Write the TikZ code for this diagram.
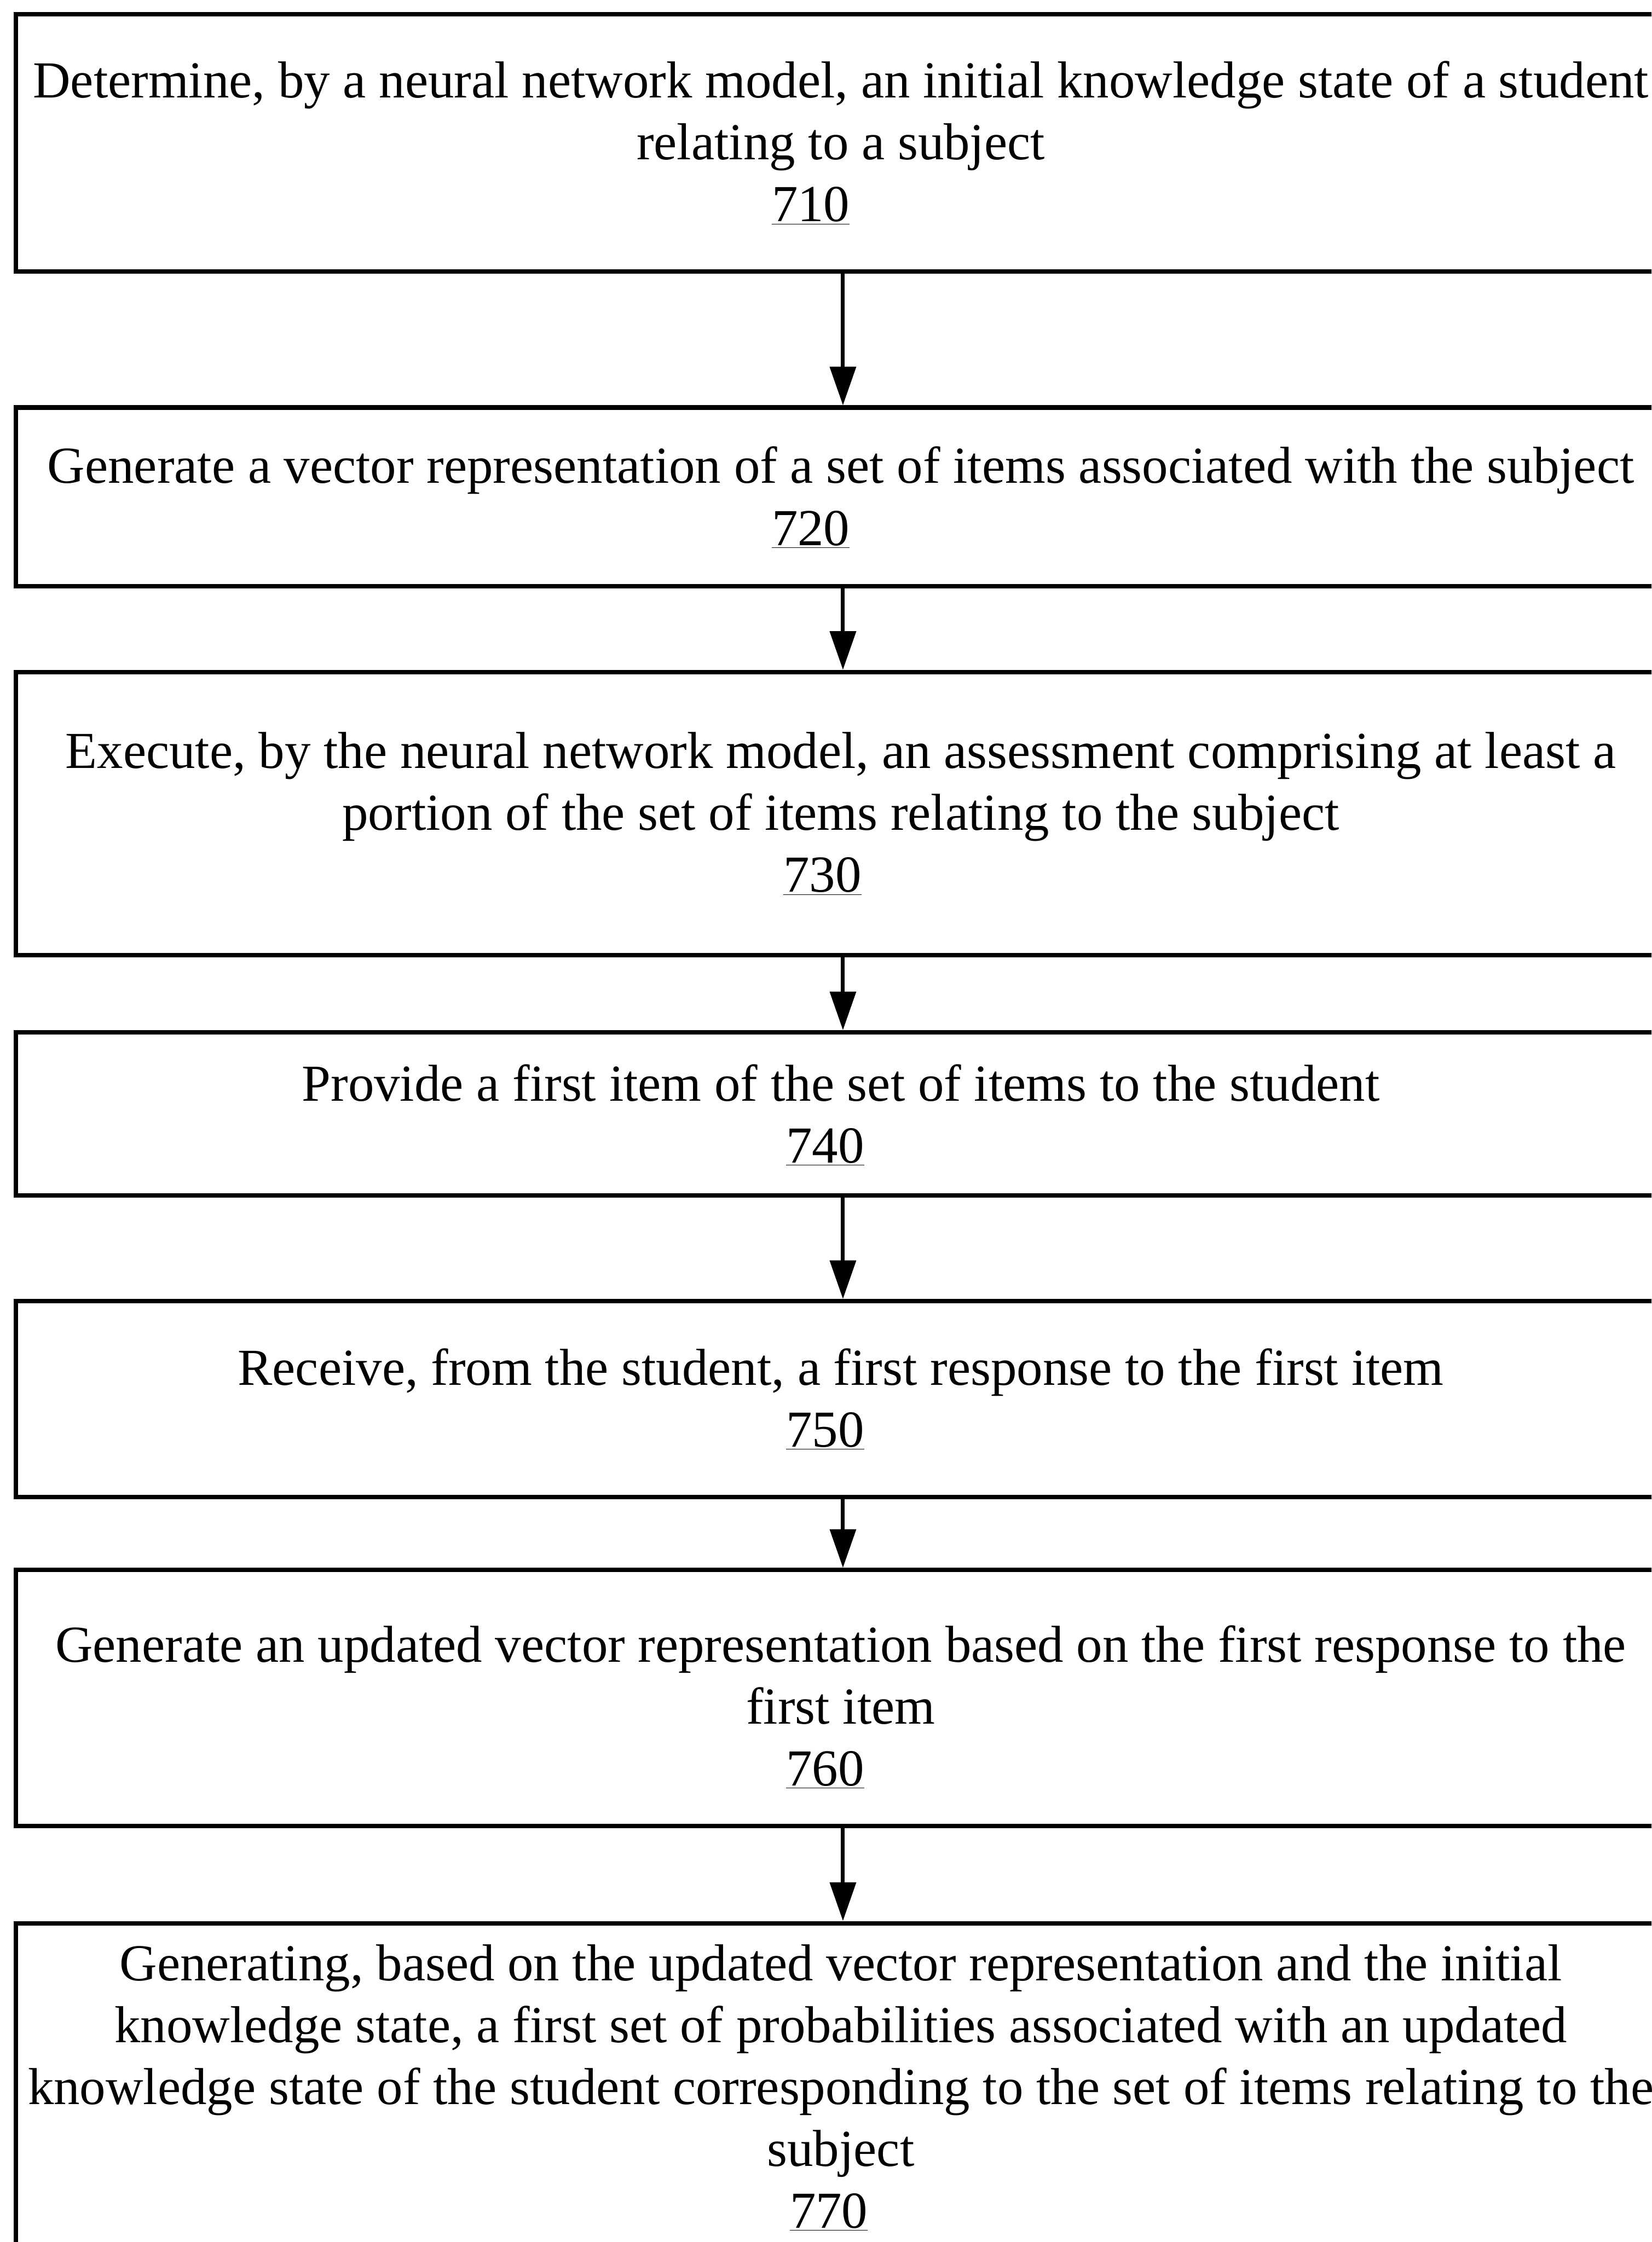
\documentclass[tikz,border=0pt]{standalone}
\usepackage{fontspec}
\setmainfont{Liberation Serif}
\usetikzlibrary{arrows.meta,fit}
\begin{document}
\begin{tikzpicture}[x=0.038892cm,y=-0.038892cm,
  stepbox/.style={draw=black, line width=3.4pt, inner sep=0pt, rectangle},
  steptext/.style={align=center, inner sep=0pt, font=\fontsize{40.2pt}{47.9pt}\selectfont},
  flow/.style={line width=3pt, -{Triangle[width=7mm,length=10.5mm]}}]
  \useasboundingbox (0,0) rectangle (1155,1568);
  \clip (0,0) rectangle (1155,1568);
  \fill[white] (0,0) rectangle (1155,1568);

  % process boxes (they run past the right edge; the last one past the bottom)
  \node[stepbox, fit={(11,10) (1168,190)}] (b1) {};
  \node[stepbox, fit={(11,285) (1168,410)}] (b2) {};
  \node[stepbox, fit={(11,470) (1168,668)}] (b3) {};
  \node[stepbox, fit={(11,722) (1168,836)}] (b4) {};
  \node[stepbox, fit={(11,910) (1168,1047)}] (b5) {};
  \node[stepbox, fit={(11,1098) (1168,1277)}] (b6) {};
  \node[stepbox, fit={(11,1345) (1168,1620)}] (b7) {};

  % step descriptions with reference numerals
  \node[steptext] (t1) at (588,103) {\strut Determine, by a neural network model, an initial knowledge state of a student\\
    \strut relating to a subject\\ \strut\underline{710}\kern1.63cm};
  \node[steptext] (t2) at (588,351) {\strut Generate a vector representation of a set of items associated with the subject\\
    \strut\underline{720}\kern1.63cm};
  \node[steptext] (t3) at (588,572) {\strut Execute, by the neural network model, an assessment comprising at least a\\
    \strut portion of the set of items relating to the subject\\ \strut\underline{730}\kern1.0cm};
  \node[steptext] (t4) at (588,783) {\strut Provide a first item of the set of items to the student\\
    \strut\underline{740}\kern0.85cm};
  \node[steptext] (t5) at (588,981.5) {\strut Receive, from the student, a first response to the first item\\
    \strut\underline{750}\kern0.85cm};
  \node[steptext] (t6) at (588,1197) {\strut Generate an updated vector representation based on the first response to the\\
    \strut first item\\ \strut\underline{760}\kern0.85cm};
  \node[steptext] (t7) at (588,1463) {\strut Generating, based on the updated vector representation and the initial\\
    \strut knowledge state, a first set of probabilities associated with an updated\\
    \strut knowledge state of the student corresponding to the set of items relating to the\\
    \strut subject\\ \strut\underline{770}\kern0.65cm};

  % flow arrows
  \draw[flow] (b1.south) -- (b2.north);
  \draw[flow] (b2.south) -- (b3.north);
  \draw[flow] (b3.south) -- (b4.north);
  \draw[flow] (b4.south) -- (b5.north);
  \draw[flow] (b5.south) -- (b6.north);
  \draw[flow] (b6.south) -- (b7.north);
\end{tikzpicture}
\end{document}
